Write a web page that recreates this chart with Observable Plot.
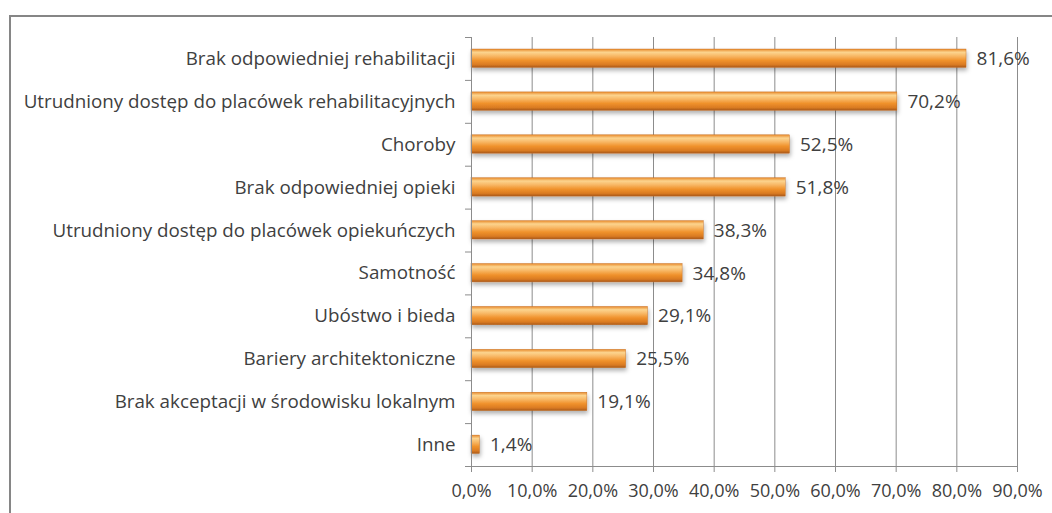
<!DOCTYPE html>
<html>
<head>
<meta charset="utf-8">
<script src="https://cdn.jsdelivr.net/npm/d3@7"></script>
<script src="https://cdn.jsdelivr.net/npm/@observablehq/plot@0.6"></script>
<style>
  html, body { margin: 0; padding: 0; background: #fff; overflow: hidden; }
  #frame { position: absolute; left: 9px; top: 15px; width: 1100px; height: 600px; border: 2px solid #868686; box-sizing: border-box; }
  #chart { position: absolute; left: 0; top: 0; }
</style>
</head>
<body>
<div id="frame"></div>
<div id="chart"></div>
<script>
const categories = [
  "Brak odpowiedniej rehabilitacji",
  "Utrudniony dostęp do placówek rehabilitacyjnych",
  "Choroby",
  "Brak odpowiedniej opieki",
  "Utrudniony dostęp do placówek opiekuńczych",
  "Samotność",
  "Ubóstwo i bieda",
  "Bariery architektoniczne",
  "Brak akceptacji w środowisku lokalnym",
  "Inne"
];
const values = [81.6, 70.2, 52.5, 51.8, 38.3, 34.8, 29.1, 25.5, 19.1, 1.4];
const xTicks = [0, 10, 20, 30, 40, 50, 60, 70, 80, 90];

const data = categories.map((c, i) => ({cat: c, i, v: values[i]}));
const fmt = v => v.toFixed(1).replace(".", ",") + "%";

const plot = Plot.plot({
  width: 1052,
  height: 513,
  marginLeft: 471,
  marginRight: 35,
  marginTop: 37,
  marginBottom: 47,
  style: {fontFamily: "'Open Sans', sans-serif", fontSize: "18px", color: "#404040", background: "transparent"},
  x: {domain: [0, 90]},
  y: {domain: [0, categories.length], reverse: true},
  marks: [
    Plot.gridX(xTicks, {stroke: "#8c8c8c", strokeOpacity: 1, strokeWidth: 1}),
    Plot.rectX(data, {x1: 0, x2: "v", y1: "i", y2: d => d.i + 1, insetTop: 12, insetBottom: 12.5, fill: "url(#barGrad)", stroke: "#c06a1e", strokeWidth: 0.4, className: "bars"}),
    Plot.text(data, {x: "v", y: d => d.i + 0.5, text: d => fmt(d.v), dx: 10, textAnchor: "start", fill: "#404040", fontSize: 19}),
    Plot.ruleY([categories.length], {stroke: "#8c8c8c", strokeWidth: 1}),
    Plot.ruleX([0], {stroke: "#8c8c8c", strokeWidth: 1}),
    Plot.axisX(xTicks, {tickSize: 6, tickPadding: 12, tickFormat: d => d.toFixed(1).replace(".", ",") + "%", stroke: "#8c8c8c", fill: "#404040", label: null, fontSize: 18}),
    Plot.axisY(d3.range(categories.length + 1), {tickSize: 6, tickFormat: () => "", stroke: "#8c8c8c", label: null}),
    Plot.axisY(categories.map((c, i) => i + 0.5), {tickSize: 0, tickPadding: 16, tickFormat: v => categories[Math.floor(v)], fill: "#404040", label: null, fontSize: 18.8})
  ]
});

const svg = d3.select(plot);
const defs = svg.insert("defs", ":first-child");
const g = defs.append("linearGradient").attr("id", "barGrad").attr("x1", 0).attr("y1", 0).attr("x2", 0).attr("y2", 1);
[[0, "#e8892a"], [0.18, "#fcd48e"], [0.38, "#f8b866"], [0.62, "#f0922c"], [0.85, "#da7b22"], [1, "#a9591a"]]
  .forEach(([o, c]) => g.append("stop").attr("offset", o).attr("stop-color", c));
const f = defs.append("filter").attr("id", "shadow").attr("x", "-10%").attr("y", "-50%").attr("width", "130%").attr("height", "250%");
f.append("feDropShadow").attr("dx", 1).attr("dy", 3).attr("stdDeviation", 2).attr("flood-color", "#000").attr("flood-opacity", 0.3);
svg.selectAll(".bars").attr("filter", "url(#shadow)");

document.getElementById("chart").appendChild(plot);
</script>
</body>
</html>
